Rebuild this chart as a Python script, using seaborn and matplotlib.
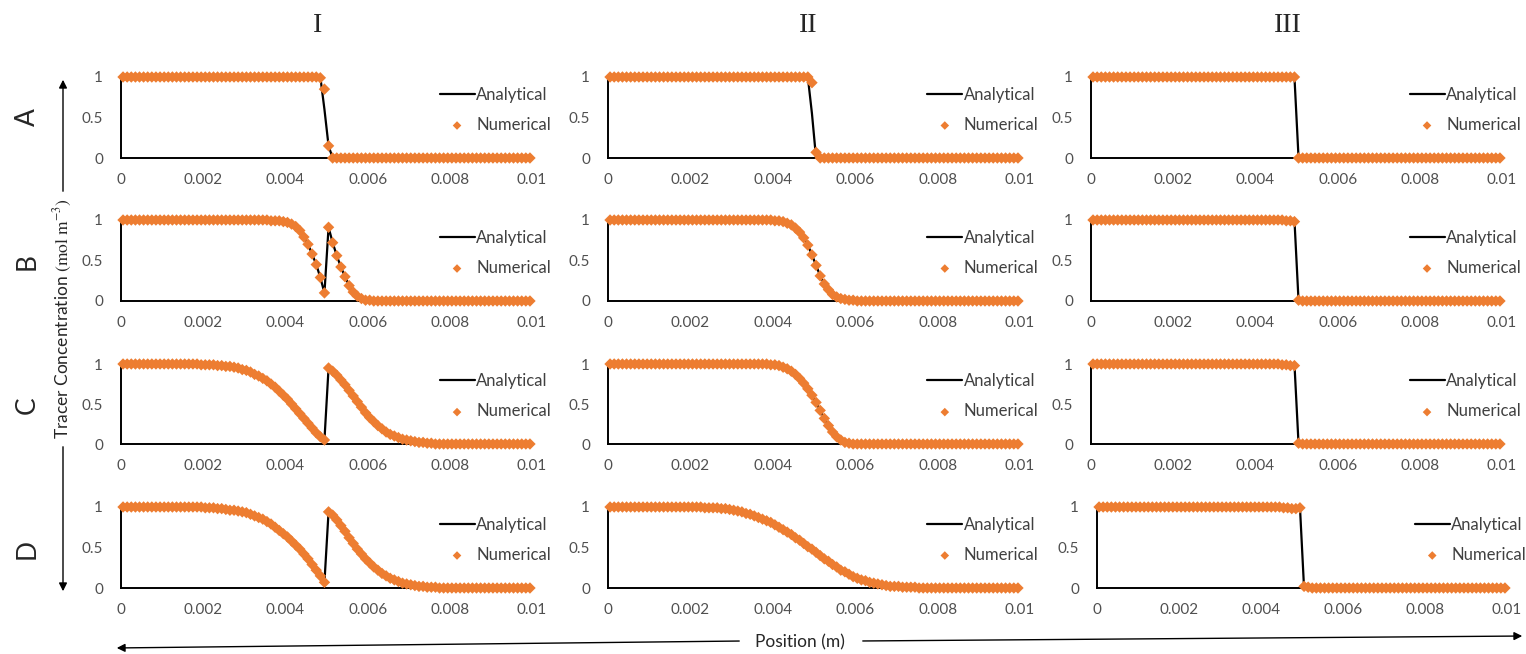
import numpy as np
import seaborn as sns
import matplotlib.pyplot as plt

W, H = 1526, 654

# cell-centre positions (m)
position = np.linspace(0.00005, 0.00995, 100)

# tracer concentration (rows A-D, columns I-III)
num_A1 = [1.0]*48 + [0.99, 0.85, 0.15] + [0.0]*49
ana_A1 = [1.0]*49 + [0.6, 0.15] + [0.0]*49
num_A2 = [1.0]*49 + [0.93, 0.07] + [0.0]*49
ana_A2 = [1.0]*49 + [0.55, 0.0] + [0.0]*49
num_A3 = [1.0]*50 + [0.0]*50
ana_A3 = [1.0]*50 + [0.0]*50

num_B1 = [1.0]*36 + [0.99, 0.99, 0.99, 0.98, 0.97, 0.95, 0.92, 0.87, 0.79, 0.70,
                     0.58, 0.45, 0.29, 0.10, 0.91, 0.72, 0.56, 0.42, 0.30, 0.19,
                     0.11, 0.06, 0.03, 0.01, 0.01] + [0.0]*39
num_B2 = [1.0]*40 + [0.99, 0.99, 0.98, 0.96, 0.94, 0.90, 0.85, 0.78, 0.69, 0.57,
                     0.44, 0.31, 0.21, 0.14, 0.08, 0.05, 0.03, 0.02, 0.01, 0.01] + [0.0]*40
num_B3 = [1.0]*47 + [0.99, 0.99, 0.98, 0.01] + [0.0]*49
ana_B3 = [1.0]*50 + [0.0]*50

num_C1 = [1.0]*18 + [1.0, 0.99, 0.99, 0.99, 0.99, 0.98, 0.98, 0.97, 0.97, 0.96,
                     0.95, 0.93, 0.92, 0.90, 0.87, 0.85, 0.82, 0.79, 0.75, 0.71,
                     0.66, 0.61, 0.56, 0.50, 0.44, 0.38, 0.32, 0.26, 0.20, 0.14,
                     0.09, 0.05,
                     0.95, 0.91, 0.86, 0.80, 0.74, 0.67, 0.60, 0.53, 0.46, 0.39,
                     0.33, 0.28, 0.23, 0.19, 0.15, 0.12, 0.10, 0.08, 0.06, 0.05,
                     0.04, 0.03, 0.02, 0.02, 0.01, 0.01] + [0.0]*24
num_C2 = [1.0]*39 + [0.99, 0.99, 0.98, 0.96, 0.94, 0.91, 0.87, 0.82, 0.76, 0.69,
                     0.61, 0.52, 0.42, 0.32, 0.23, 0.15, 0.09, 0.05, 0.02, 0.01] + [0.0]*41
num_C3 = [1.0]*46 + [0.99, 0.99, 0.98, 0.98, 0.01] + [0.0]*49
ana_C3 = [1.0]*50 + [0.0]*50

num_D1 = [1.0]*20 + [0.99, 0.99, 0.99, 0.98, 0.98, 0.97, 0.96, 0.96, 0.95, 0.94,
                     0.93, 0.91, 0.89, 0.87, 0.85, 0.82, 0.79, 0.75, 0.71, 0.67,
                     0.63, 0.58, 0.53, 0.48, 0.42, 0.36, 0.29, 0.22, 0.15, 0.07,
                     0.94, 0.90, 0.84, 0.77, 0.70, 0.62, 0.55, 0.48, 0.42, 0.36,
                     0.31, 0.26, 0.22, 0.18, 0.15, 0.12, 0.10, 0.08, 0.06, 0.05,
                     0.04, 0.03, 0.02, 0.02, 0.01, 0.01, 0.01] + [0.0]*23
num_D2 = [1.0]*23 + [0.99, 0.99, 0.99, 0.99, 0.98, 0.98, 0.97, 0.96, 0.95, 0.94,
                     0.92, 0.91, 0.89, 0.87, 0.85, 0.83, 0.81, 0.78, 0.75, 0.72,
                     0.69, 0.66, 0.62, 0.59, 0.55, 0.51, 0.48, 0.44, 0.40, 0.36,
                     0.33, 0.29, 0.26, 0.22, 0.20, 0.17, 0.14, 0.12, 0.10, 0.09,
                     0.07, 0.06, 0.05, 0.04, 0.03, 0.02, 0.02, 0.02, 0.01, 0.01,
                     0.01, 0.01] + [0.0]*25
num_D3 = [1.0]*45 + [0.99, 0.99, 0.98, 0.98, 0.99, 0.02, 0.01] + [0.0]*48
ana_D3 = [1.0]*50 + [0.0]*50

# analytical curve sits under the markers in the smooth panels
panels = [
    [(num_A1, ana_A1), (num_A2, ana_A2), (num_A3, ana_A3)],
    [(num_B1, num_B1), (num_B2, num_B2), (num_B3, ana_B3)],
    [(num_C1, num_C1), (num_C2, num_C2), (num_C3, ana_C3)],
    [(num_D1, num_D1), (num_D2, num_D2), (num_D3, ana_D3)],
]
row_names = ["A", "B", "C", "D"]
col_names = ["I", "II", "III"]
xticks = [0, 0.002, 0.004, 0.006, 0.008, 0.01]
xtick_labels = ["0", "0.002", "0.004", "0.006", "0.008", "0.01"]
yticks = [0, 0.5, 1]
ytick_labels = ["0", "0.5", "1"]

for row in panels:
    for num, ana in row:
        assert len(num) == 100 and len(ana) == 100

sns.set_style("white")
plt.rcParams['font.family'] = ['Lato', 'DejaVu Sans']
plt.rcParams['mathtext.fontset'] = 'stix'

fig = plt.figure(figsize=(W/100, H/100), dpi=100)

#pixel boxes of the plot areas
col_px = [(121, 532), (608, 1020), (1091, 1502)]
row_px = [(77, 158), (220, 301), (364, 444), (507, 588)]

for r, row in enumerate(panels):
    for c, (num, ana) in enumerate(row):
        x0, x1 = col_px[c]
        if r == 3 and c == 2:
            x0, x1 = 1097, 1507
        y1, y0 = row_px[r]
        ax = fig.add_axes([x0/W, 1 - y0/H, (x1 - x0)/W, (y0 - y1)/H])
        sns.lineplot(x=position, y=ana, ax=ax, color='black', linewidth=1.6,
                     label='Analytical', clip_on=False, zorder=2)
        sns.scatterplot(x=position, y=num, ax=ax, marker='D', s=34, color='#ED7D31',
                        edgecolor='none', label='Numerical', clip_on=False, zorder=3)
        ax.set_xlim(0, 0.01)
        ax.set_ylim(0, 1)
        ax.set_xticks(xticks)
        ax.set_xticklabels(xtick_labels)
        ax.set_yticks(yticks)
        ax.set_yticklabels(ytick_labels)
        ax.set_xlabel('')
        ax.set_ylabel('')
        ax.tick_params(length=0, labelsize=11, labelcolor='#505050')
        ax.tick_params(axis='x', pad=11)
        ax.tick_params(axis='y', pad=13)
        for s in ['top', 'right']:
            ax.spines[s].set_visible(False)
        for s in ['left', 'bottom']:
            ax.spines[s].set_color('black')
            ax.spines[s].set_linewidth(1.4)
        ax.patch.set_alpha(0)
        ax.legend(loc='center left', bbox_to_anchor=(0.775, 0.595), frameon=False,
                  fontsize=12, handlelength=2.1, handletextpad=0.1, borderpad=0,
                  borderaxespad=0, labelspacing=0.85, markerscale=0.75,
                  labelcolor='#404040')

# overlay in pixel coordinates for headers, row letters and arrows
ov = fig.add_axes([0, 0, 1, 1])
ov.set_xlim(0, W)
ov.set_ylim(H, 0)
ov.axis('off')

for name, xc in zip(col_names, [318, 808, 1288]):
    ov.text(xc, 25, name, ha='center', va='center', fontsize=20,
            family='Liberation Serif', color='#262626')
for name, yc in zip(row_names, [117, 262, 405, 549]):
    ov.text(27, yc, name, ha='center', va='center', rotation=90, fontsize=19,
            color='#262626')

ov.text(63, 319, r"Tracer Concentration $(\mathrm{mol\ m^{-3}})$", rotation=90,
        ha='center', va='center', fontsize=12.5, color='#262626')
arrow = dict(arrowstyle='-|>', color='black', lw=1.0, mutation_scale=12)
ov.annotate("", xy=(63, 77), xytext=(63, 194), arrowprops=arrow)
ov.annotate("", xy=(63, 594), xytext=(63, 444), arrowprops=arrow)

ov.text(800, 642, "Position (m)", ha='center', va='center', fontsize=12.5, color='#262626')
ov.annotate("", xy=(114, 648), xytext=(742, 641), arrowprops=arrow)
ov.annotate("", xy=(1525, 636), xytext=(860, 641), arrowprops=arrow)

fig.savefig("out.png", dpi=100)
